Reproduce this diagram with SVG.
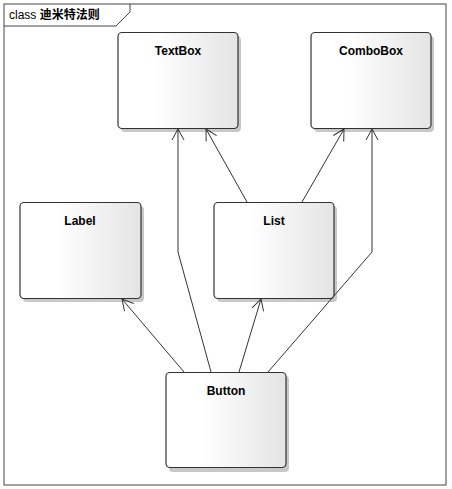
<svg xmlns="http://www.w3.org/2000/svg" width="452" height="489" viewBox="0 0 452 489">
<style>
.frame{fill:none;stroke:#444;stroke-width:1}
.box{fill:url(#g);stroke:#333;stroke-width:1.2}
.shadow{fill:#c8c8c8}
.t{font-family:"Liberation Sans",Arial,sans-serif;font-size:12px;font-weight:bold;fill:#000;text-anchor:middle}
.title{font-family:"Liberation Sans","Noto Sans CJK SC",sans-serif;font-size:12px;fill:#000}
.c{fill:none;stroke:#333;stroke-width:1}
</style>
<defs>
<linearGradient id="g" x1="0" y1="0" x2="1" y2="0">
<stop offset="0" stop-color="#ffffff"/>
<stop offset="0.3" stop-color="#ffffff"/>
<stop offset="1" stop-color="#e4e4e4"/>
</linearGradient>
<marker id="a" markerUnits="userSpaceOnUse" markerWidth="14" markerHeight="14" refX="0" refY="0" viewBox="-12 -7 14 14" orient="auto">
<path d="M -11 -6 L 0 0 L -11 6" fill="none" stroke="#333" stroke-width="1"/>
</marker>
</defs>
<rect width="452" height="489" fill="#fff"/>
<g id="frame">
<rect class="frame" x="4" y="4" width="442" height="481"/>
<path class="frame" d="M4 26 L116 26 L130 12 L130 4"/>
<text class="title" x="9" y="19">class <tspan font-weight="bold">迪米特法则</tspan></text>
</g>
<g id="TextBox">
<rect class="shadow" x="121" y="36" width="120" height="96" rx="4"/>
<rect class="box" x="118" y="32.5" width="120" height="96" rx="4"/>
<text class="t" x="178" y="55">TextBox</text>
</g>
<g id="ComboBox">
<rect class="shadow" x="314" y="36" width="120" height="96" rx="4"/>
<rect class="box" x="311" y="32.5" width="120" height="96" rx="4"/>
<text class="t" x="371" y="55">ComboBox</text>
</g>
<g id="Label">
<rect class="shadow" x="23" y="206" width="121" height="96" rx="4"/>
<rect class="box" x="20" y="202.5" width="121" height="96" rx="4"/>
<text class="t" x="80" y="225">Label</text>
</g>
<g id="List">
<rect class="shadow" x="217" y="206" width="120" height="96" rx="4"/>
<rect class="box" x="214" y="202.5" width="120" height="96" rx="4"/>
<text class="t" x="274" y="225">List</text>
</g>
<g id="Button">
<rect class="shadow" x="169" y="376" width="120" height="96" rx="4"/>
<rect class="box" x="166" y="372.5" width="120" height="95" rx="4"/>
<text class="t" x="226" y="395">Button</text>
</g>
<g id="connectors">
<polyline class="c" points="211,372 178,252 178,129" marker-end="url(#a)"/>
<line class="c" x1="247" y1="202" x2="206" y2="129" marker-end="url(#a)"/>
<line class="c" x1="302" y1="202" x2="344" y2="129" marker-end="url(#a)"/>
<polyline class="c" points="268,372 372,252 372,129" marker-end="url(#a)"/>
<line class="c" x1="184" y1="372" x2="122" y2="299" marker-end="url(#a)"/>
<line class="c" x1="239" y1="372" x2="261" y2="299" marker-end="url(#a)"/>
</g>
</svg>
